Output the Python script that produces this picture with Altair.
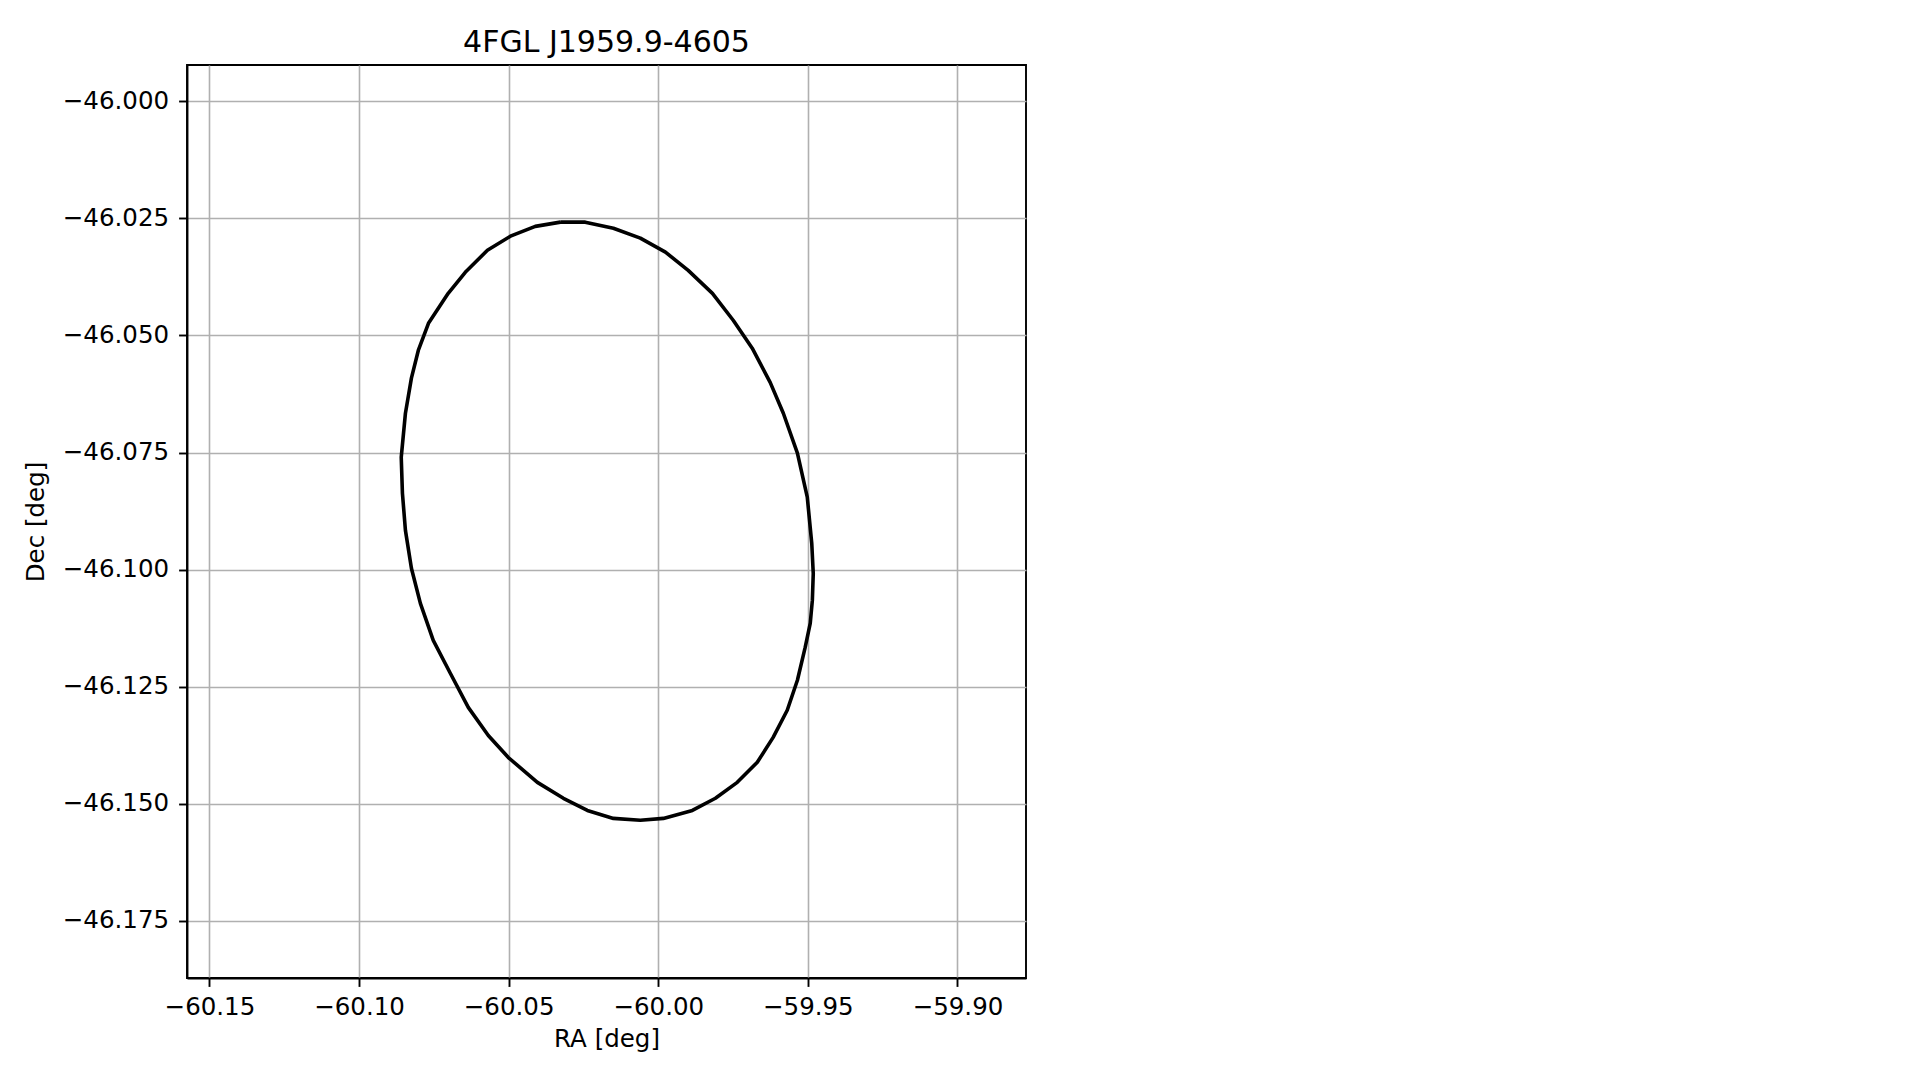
import altair as alt
import pandas as pd

# Ellipse vertices (RA, Dec in degrees), in drawing order
ra = [-60.0327, -60.0244, -60.0150, -60.0060, -59.9976, -59.9900, -59.9819, -59.9749,
      -59.9686, -59.9626, -59.9582, -59.9535, -59.9502, -59.9487, -59.9482, -59.9485,
      -59.9492, -59.9509, -59.9535, -59.9569, -59.9616, -59.9669, -59.9736, -59.9809,
      -59.9886, -59.9983, -60.0060, -60.0150, -60.0237, -60.0317, -60.0404, -60.0501,
      -60.0568, -60.0635, -60.0695, -60.0752, -60.0795, -60.0825, -60.0845, -60.0855,
      -60.0859, -60.0845, -60.0825, -60.0802, -60.0768, -60.0702, -60.0645, -60.0571,
      -60.0494, -60.0411, -60.0327]
dec = [-46.0258, -46.0258, -46.0271, -46.0292, -46.0322, -46.0361, -46.0410, -46.0468,
       -46.0527, -46.0600, -46.0666, -46.0751, -46.0845, -46.0944, -46.1008, -46.1065,
       -46.1114, -46.1166, -46.1236, -46.1300, -46.1358, -46.1411, -46.1454, -46.1488,
       -46.1514, -46.1531, -46.1535, -46.1531, -46.1514, -46.1488, -46.1454, -46.1401,
       -46.1354, -46.1294, -46.1221, -46.1151, -46.1072, -46.0997, -46.0916, -46.0837,
       -46.0760, -46.0666, -46.0591, -46.0532, -46.0474, -46.0410, -46.0365, -46.0318,
       -46.0288, -46.0267, -46.0258]

x_ticks = [-60.15, -60.10, -60.05, -60.00, -59.95, -59.90]
y_ticks = [-46.000, -46.025, -46.050, -46.075, -46.100, -46.125, -46.150, -46.175]
x_domain = [-60.1575, -59.8771]
y_domain = [-46.18717, -45.99225]

df = pd.DataFrame({"ra": ra, "dec": dec, "i": list(range(len(ra)))})

FONT = "DejaVu Sans"

x_axis = alt.Axis(values=x_ticks, format=".2f", title="RA [deg]", grid=True,
                  gridColor="#b0b0b0", gridWidth=1.6, domainColor="black",
                  domainWidth=1.9, tickColor="black", tickWidth=1.9, tickSize=8.4,
                  labelFont=FONT, labelFontSize=24.5, labelColor="black",
                  labelPadding=9, titleFont=FONT, titleFontSize=24.5,
                  titleFontWeight="normal", titleColor="black", titlePadding=9,
                  labelFlush=False)
y_axis = alt.Axis(values=y_ticks, format=".3f", title="Dec [deg]", grid=True,
                  gridColor="#b0b0b0", gridWidth=1.6, domainColor="black",
                  domainWidth=1.9, tickColor="black", tickWidth=1.9, tickSize=8.4,
                  labelFont=FONT, labelFontSize=24.5, labelColor="black",
                  labelPadding=10, titleFont=FONT, titleFontSize=24.5,
                  titleFontWeight="normal", titleColor="black", titlePadding=14,
                  labelFlush=False)

chart = alt.Chart(df).mark_line(color="black", strokeWidth=3.6, strokeJoin="round").encode(
    x=alt.X("ra:Q", scale=alt.Scale(domain=x_domain, nice=False, zero=False), axis=x_axis),
    y=alt.Y("dec:Q", scale=alt.Scale(domain=y_domain, nice=False, zero=False), axis=y_axis),
    order=alt.Order("i:Q"),
).properties(
    width=839,
    height=913,
    background="white",
    title=alt.TitleParams("4FGL J1959.9-4605", font=FONT, fontSize=30,
                          fontWeight="normal", color="black", anchor="middle",
                          baseline="alphabetic", offset=14, dy=30.5),
    autosize=alt.AutoSizeParams(type="none"),
    padding={"left": 179, "top": 57, "right": 60, "bottom": 90},
).configure_view(
    stroke="black", strokeWidth=1.9
)

chart.save("out.html", embed_options={"renderer": "svg", "actions": False})
